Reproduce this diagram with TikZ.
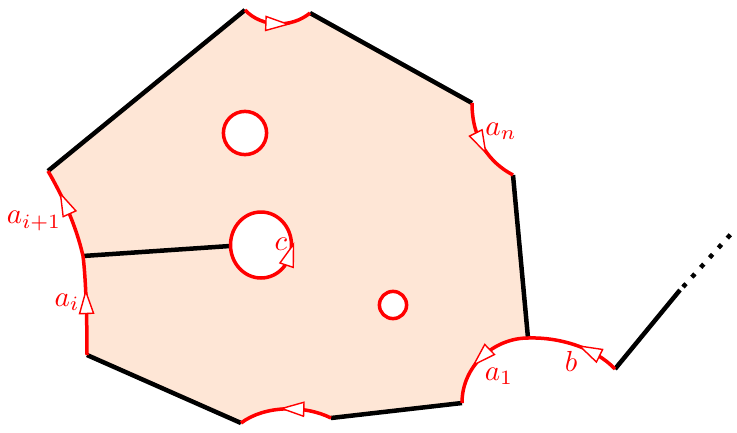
\documentclass[tikz,border=0pt]{standalone}
\usetikzlibrary{decorations.markings}
\definecolor{peach}{RGB}{254,230,214}
\tikzset{
  blk/.style={line width=4.5pt, black},
  redl/.style={line width=3.5pt, red},
  lbl/.style={text=red, inner sep=0pt, font=\normalsize, transform shape, scale=2.9},
  arrowmark/.style={postaction={decorate, decoration={markings,
      mark=at position #1 with {\draw[red, line width=1.4pt, fill=white, line join=miter]
        (-11pt,-7pt) -- (11pt,0pt) -- (-11pt,7pt) -- cycle;}}}}
}
\begin{document}
\begin{tikzpicture}[x=1pt,y=-1pt]
\useasboundingbox (0,0) rectangle (737,432);
% vertices
\coordinate (P1) at (245,10);
\coordinate (P2) at (310,13);
\coordinate (P3) at (472,103);
\coordinate (P4) at (513,175);
\coordinate (P5) at (528,338);
\coordinate (P6) at (462,403);
\coordinate (P7) at (331,418);
\coordinate (P8) at (241,423);
\coordinate (P9) at (87,355);
\coordinate (P10) at (83,256);
\coordinate (P11) at (48,171);
\coordinate (Q) at (615,369);
\coordinate (R) at (680,290);
\coordinate (D1) at (683,287);
\coordinate (S) at (731,234);
\coordinate (C1) at (245,133);
\coordinate (C2) at (261,245);
\coordinate (C3) at (393,305);
\coordinate (J) at (230,246);
% region
\fill[peach, even odd rule]
  (P11) -- (P1) .. controls (262,28) and (292,28) .. (P2) -- (P3)
  .. controls (472,140) and (490,163) .. (P4) -- (P5)
  .. controls (495,338) and (462,365) .. (P6) -- (P7)
  .. controls (305,405) and (265,405) .. (P8) -- (P9)
  .. controls (87,320) and (86,280) .. (P10)
  .. controls (76,225) and (62,195) .. (P11) -- cycle
  (C1) circle[radius=21.6]
  (C2) ellipse[x radius=30.5, y radius=33]
  (C3) circle[radius=13.6];
% black edges
\draw[blk] (P11) -- (P1);
\draw[blk] (P2) -- (P3);
\draw[blk] (P4) -- (P5);
\draw[blk] (P6) -- (P7);
\draw[blk] (P8) -- (P9);
\draw[blk] (P10) -- (J);
\draw[blk] (Q) -- (R);
\draw[blk, dash pattern=on 4.5pt off 8.7pt] (D1) -- (S);
% red edges
\draw[redl, arrowmark=0.5] (P1) .. controls (262,28) and (292,28) .. (P2);
\draw[redl, arrowmark=0.47] (P3) .. controls (472,140) and (490,163) .. (P4);
\draw[redl, arrowmark=0.5] (P5) .. controls (495,338) and (462,365) .. (P6);
\draw[redl, arrowmark=0.33] (Q) .. controls (595,348) and (560,337) .. (P5);
\draw[redl, arrowmark=0.42] (P7) .. controls (305,405) and (265,405) .. (P8);
\draw[redl, arrowmark=0.53] (P9) .. controls (87,320) and (86,280) .. (P10);
\draw[redl, arrowmark=0.6] (P10) .. controls (76,225) and (62,195) .. (P11);
% holes
\draw[redl] (C1) circle[radius=21.6];
\draw[redl] (C2) ellipse[x radius=30.5, y radius=33];
\draw[redl] (C3) circle[radius=13.6];
\path[arrowmark=0.5] (C2) ++(45:31) arc[start angle=45, end angle=-5, x radius=30.5, y radius=33];
% labels
\node[lbl] (la1) at (34,221) {$a_{i+1}$};
\node[lbl] (la2) at (67,302) {$a_i$};
\node[lbl] (lc) at (281,244) {$c$};
\node[lbl] (lan) at (501,131) {$a_n$};
\node[lbl] (la3) at (499,376) {$a_1$};
\node[lbl] (lb) at (571,361) {$b$};
\end{tikzpicture}
\end{document}
